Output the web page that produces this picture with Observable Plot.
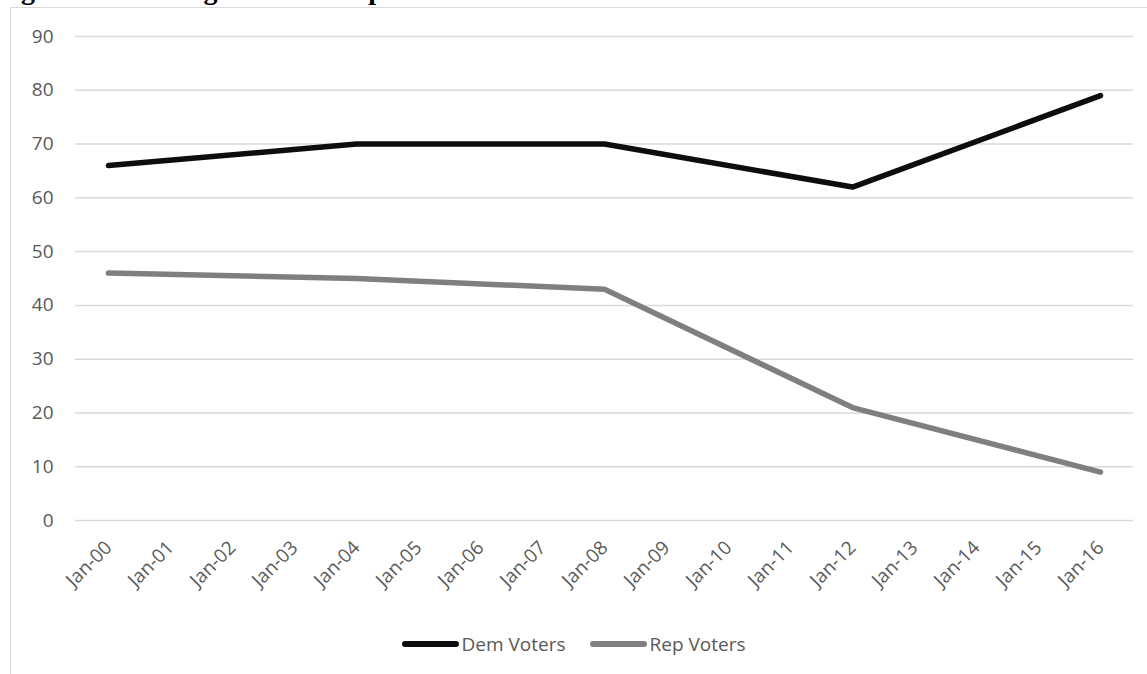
<!DOCTYPE html>
<html>
<head>
<meta charset="utf-8">
<script src="https://cdn.jsdelivr.net/npm/d3@7"></script>
<script src="https://cdn.jsdelivr.net/npm/@observablehq/plot@0.6"></script>
<style>
  html, body { margin: 0; padding: 0; background: #fff; }
  #wrap { position: relative; width: 1147px; height: 674px; overflow: hidden; }
  #title { position: absolute; left: -4px; top: -24px; font-family: "Liberation Serif", "Times New Roman", serif; font-weight: bold; font-size: 28px; line-height: 28px; white-space: nowrap; color: #000; }
  #frame { position: absolute; left: 10px; top: 7px; width: 1160px; height: 700px; border: 1.5px solid #d9d9d9; box-sizing: border-box; }
  #chart { position: absolute; left: 0; top: 0; }
  #legend { position: absolute; left: 0; width: 1147px; top: 627px; text-align: center; font-family: "Open Sans", sans-serif; font-size: 19px; color: #595959; }
  .item { display: inline-flex; align-items: center; margin: 0 12px; }
  .sw { display: inline-block; width: 57px; height: 6px; border-radius: 3px; margin-right: 3px; }
</style>
</head>
<body>
<div id="wrap">
  <div id="title">Figure 4: Growing Partisan Gap in Attitudes on Cuba</div>
  <div id="frame"></div>
  <div id="chart"></div>
  <div id="legend"></div>
</div>
<script>
const months = ["Jan-00","Jan-01","Jan-02","Jan-03","Jan-04","Jan-05","Jan-06","Jan-07","Jan-08","Jan-09","Jan-10","Jan-11","Jan-12","Jan-13","Jan-14","Jan-15","Jan-16"];
const pointMonths = ["Jan-00","Jan-04","Jan-08","Jan-12","Jan-16"];
const demVoters = [66, 70, 70, 62, 79];
const repVoters = [46, 45, 43, 21, 9];
const seriesNames = ["Dem Voters", "Rep Voters"];
const seriesColors = ["#0d0d0d", "#7f7f7f"];
const yTicks = [0, 10, 20, 30, 40, 50, 60, 70, 80, 90];

const rows = [];
pointMonths.forEach((m, i) => {
  rows.push({month: m, value: demVoters[i], series: seriesNames[0]});
  rows.push({month: m, value: repVoters[i], series: seriesNames[1]});
});

const plot = Plot.plot({
  width: 1147,
  height: 610,
  marginTop: 36,
  marginBottom: 90,
  marginLeft: 75,
  marginRight: 14,
  style: {background: "transparent", fontFamily: "Open Sans, sans-serif"},
  x: {type: "point", domain: months, padding: 0.5},
  y: {domain: [0, 90]},
  color: {domain: seriesNames, range: seriesColors},
  marks: [
    Plot.ruleY(yTicks, {stroke: "#d9d9d9", strokeWidth: 1.5}),
    Plot.axisY({ticks: yTicks, tickSize: 0, tickPadding: 22, fontSize: 19, fill: "#595959", label: null}),
    Plot.axisX({tickSize: 0, tickRotate: -45, tickPadding: 24, fontSize: 19, fill: "#595959", label: null}),
    Plot.line(rows, {x: "month", y: "value", z: "series", stroke: "series", strokeWidth: 5.5, strokeLinecap: "round", strokeLinejoin: "round"})
  ]
});
document.getElementById("chart").appendChild(plot);

const legend = document.getElementById("legend");
seriesNames.forEach((name, i) => {
  const item = document.createElement("span");
  item.className = "item";
  const sw = document.createElement("span");
  sw.className = "sw";
  sw.style.background = seriesColors[i];
  item.appendChild(sw);
  item.appendChild(document.createTextNode(name));
  legend.appendChild(item);
});
</script>
</body>
</html>
